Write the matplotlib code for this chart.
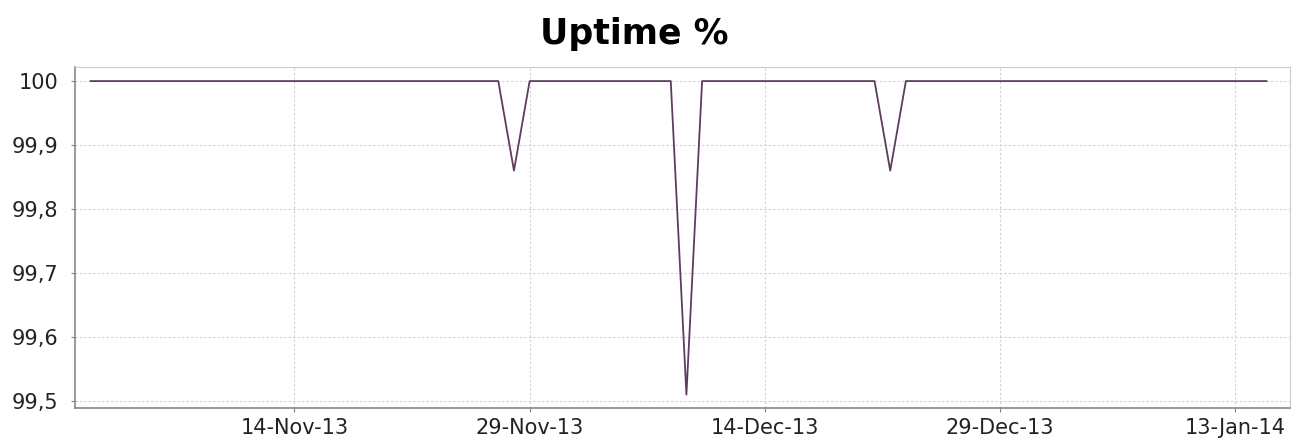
import datetime as dt

import matplotlib
matplotlib.use("Agg")
import matplotlib.dates as mdates
import matplotlib.pyplot as plt
from matplotlib.ticker import FuncFormatter

# daily uptime; only days where the line changes direction are listed
dates = [
    "2013-11-01", "2013-11-27", "2013-11-28", "2013-11-29",
    "2013-12-08", "2013-12-09", "2013-12-10",
    "2013-12-21", "2013-12-22", "2013-12-23", "2014-01-15",
]
uptime = [100, 100, 99.86, 100, 100, 99.51, 100, 100, 99.86, 100, 100]
tick_dates = ["2013-11-14", "2013-11-29", "2013-12-14", "2013-12-29", "2014-01-13"]
y_ticks = [99.5, 99.6, 99.7, 99.8, 99.9, 100]

x = [dt.datetime.strptime(d, "%Y-%m-%d") for d in dates]
xt = [dt.datetime.strptime(d, "%Y-%m-%d") for d in tick_dates]

fig = plt.figure(figsize=(13.03, 4.42), dpi=100)
ax = fig.add_axes([75 / 1303, 1 - 408 / 442, 1215 / 1303, 341 / 442])

ax.plot(x, uptime, color="#5c3d5e", linewidth=1.3)

ax.set_xlim(dt.datetime(2013, 10, 31), dt.datetime(2014, 1, 16, 12))
ax.set_ylim(99.489, 100.022)

ax.set_xticks(xt)
ax.xaxis.set_major_formatter(mdates.DateFormatter("%d-%b-%y"))
ax.set_yticks(y_ticks)
ax.yaxis.set_major_formatter(
    FuncFormatter(lambda v, p: "100" if abs(v - 100) < 1e-9 else f"{v:.1f}".replace(".", ","))
)

ax.grid(True, color="#d0d0d0", linestyle=(0, (2, 2)), linewidth=0.8)
ax.tick_params(axis="both", labelsize=15, length=3, color="#808080", labelcolor="#222222")
ax.tick_params(axis="x", pad=4)
ax.tick_params(axis="y", pad=9)

for side in ("left", "bottom"):
    ax.spines[side].set_color("#888888")
    ax.spines[side].set_linewidth(1.2)
for side in ("top", "right"):
    ax.spines[side].set_color("#cccccc")

fig.text(634 / 1303, 1 - 34 / 442, "Uptime %", ha="center", va="center",
         fontsize=25, fontweight="bold")

fig.savefig("out.png", dpi=100)
